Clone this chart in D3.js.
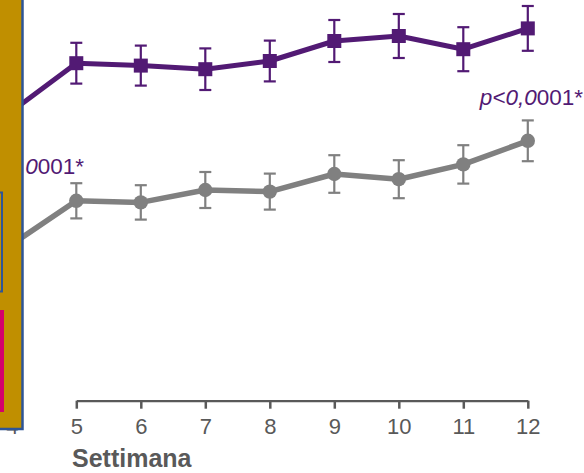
<!DOCTYPE html>
<html>
<head>
<meta charset="utf-8">
<script src="https://cdn.jsdelivr.net/npm/d3@7"></script>
<style>
  html, body { margin: 0; padding: 0; background: #fff; }
  svg { display: block; }
</style>
</head>
<body>
<svg id="chart" width="584" height="473"></svg>
<script>
// ---- data ----
const weeks = [4, 5, 6, 7, 8, 9, 10, 11, 12];
const purpleMean = [72.2, 84.2, 83.6, 82.7, 84.75, 89.75, 91.0, 87.7, 92.9];
const purpleErr  = [5.0, 5.1, 5.0, 5.2, 5.1, 5.25, 5.5, 5.5, 5.6];
const grayMean   = [38.9, 49.8, 49.4, 52.5, 52.1, 56.5, 55.2, 58.9, 64.8];
const grayErr    = [4.3, 4.4, 4.3, 4.5, 4.5, 4.7, 4.75, 4.8, 5.1];
const tickLabels = ["4", "5", "6", "7", "8", "9", "10", "11", "12"];
const xTitle = "Settimana";
const pItalic = "p<0,0";
const pRoman = "001*";

const svg = d3.select("#chart");
const x = d3.scaleLinear().domain([5, 12]).range([76.3, 527.8]);
const y = d3.scaleLinear().domain([0, 100]).range([400, 0]);
const axisY = 400.7;

const AXIS_COL = "#595959";
const PURPLE = "#521a74";
const GRAY = "#808080";
const FONT = "Liberation Sans, Arial, sans-serif";

// axis
const axis = d3.axisBottom(x)
  .tickValues(weeks)
  .tickFormat((d, i) => tickLabels[i])
  .tickSize(8).tickSizeOuter(0).tickPadding(10);
const gAxis = svg.append("g").attr("transform", `translate(0,${axisY})`).call(axis);
gAxis.select(".domain").attr("stroke", AXIS_COL).attr("stroke-width", 2.2);
gAxis.selectAll(".tick line").attr("stroke", AXIS_COL).attr("stroke-width", 2.5);
gAxis.selectAll(".tick text").attr("fill", AXIS_COL)
  .attr("font-family", FONT).attr("font-size", 22);

svg.append("text").attr("x", 72).attr("y", 467)
  .attr("font-family", FONT)
  .attr("font-weight", "bold").attr("font-size", 25)
  .attr("fill", AXIS_COL).text(xTitle);

function drawSeries(mean, err, color, marker, lw) {
  const data = weeks.map((w, i) => ({w, m: mean[i], e: err[i]}));
  const g = svg.append("g");
  const eb = g.selectAll(".eb").data(data).enter().append("g");
  eb.append("line").attr("x1", d => x(d.w)).attr("x2", d => x(d.w))
    .attr("y1", d => y(d.m + d.e)).attr("y2", d => y(d.m - d.e))
    .attr("stroke", color).attr("stroke-width", 2.2);
  [1, -1].forEach(s => {
    eb.append("line").attr("x1", d => x(d.w) - 6).attr("x2", d => x(d.w) + 6)
      .attr("y1", d => y(d.m + s * d.e)).attr("y2", d => y(d.m + s * d.e))
      .attr("stroke", color).attr("stroke-width", 2.2);
  });
  g.append("path").datum(data)
    .attr("d", d3.line().x(d => x(d.w)).y(d => y(d.m)))
    .attr("fill", "none").attr("stroke", color).attr("stroke-width", lw)
    .attr("stroke-linejoin", "round");
  if (marker === "square") {
    g.selectAll(".mk").data(data).enter().append("rect")
      .attr("x", d => x(d.w) - 7).attr("y", d => y(d.m) - 7)
      .attr("width", 14).attr("height", 14).attr("fill", color);
  } else {
    g.selectAll(".mk").data(data).enter().append("circle")
      .attr("cx", d => x(d.w)).attr("cy", d => y(d.m)).attr("r", 7.2)
      .attr("fill", color);
  }
}
drawSeries(grayMean, grayErr, GRAY, "circle", 5.5);
drawSeries(purpleMean, purpleErr, PURPLE, "square", 5);

// p-values
function pLabel(xp, yp) {
  const t = svg.append("text").attr("x", xp).attr("y", yp).attr("text-anchor", "end")
    .attr("font-family", FONT).attr("font-size", 22.5).attr("fill", PURPLE);
  t.append("tspan").attr("font-style", "italic").text(pItalic);
  t.append("tspan").text(pRoman);
}
pLabel(583, 105);
pLabel(84, 174);

// left overlay panel
svg.append("rect").attr("x", -10).attr("y", -10).attr("width", 32.5).attr("height", 439)
  .attr("fill", "#c08f00").attr("stroke", "#2e5597").attr("stroke-width", 2.5);
svg.append("rect").attr("x", -10).attr("y", 192.5).attr("width", 12).attr("height", 99)
  .attr("fill", "none").attr("stroke", "#2e5597").attr("stroke-width", 2);
svg.append("rect").attr("x", -10).attr("y", 310).attr("width", 14).attr("height", 102)
  .attr("fill", "#d4006b");
</script>
</body>
</html>
